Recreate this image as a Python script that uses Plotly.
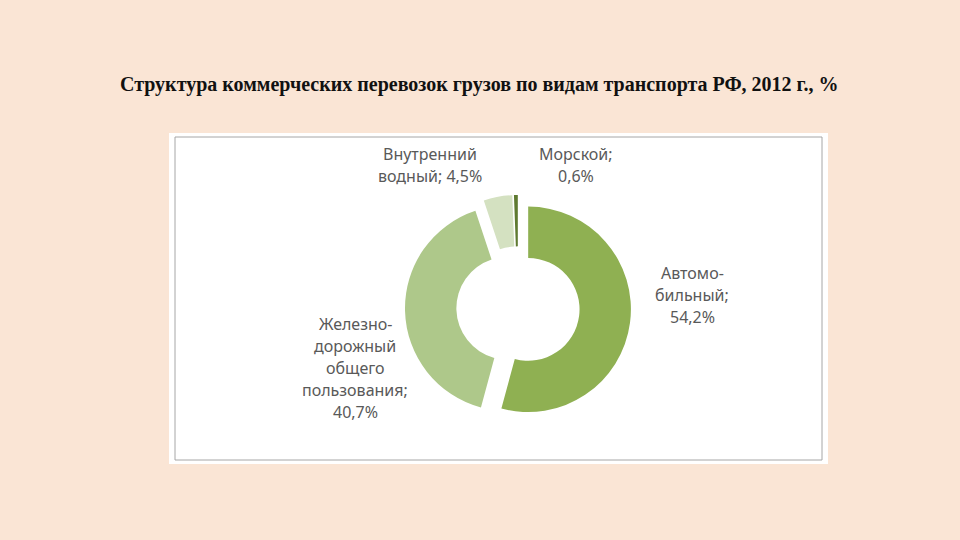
import plotly.graph_objects as go

# данные
names = ["Автомо-\nбильный", "Железно-\nдорожный\nобщего\nпользования",
         "Внутренний\nводный", "Морской"]
shares = [54.2, 40.7, 4.5, 0.6]
value_sep = ["\n", "\n", " ", "\n"]
colors = ["#8FB052", "#AEC88A", "#D4E1C1", "#5F7A31"]

title = "Структура коммерческих перевозок грузов по видам транспорта РФ, 2012 г., %"

W, H = 960, 540
# центры подписей в пикселях
label_pos = [(692, 295), (355, 368), (430, 165), (576, 165)]
LINE = 22

fig = go.Figure(go.Pie(
    labels=[n.replace("\n", "") for n in names],
    values=shares,
    sort=False,
    direction="clockwise",
    rotation=0,
    hole=0.5,
    pull=[0.1] * len(shares),
    marker=dict(colors=colors, line=dict(width=0)),
    textinfo="none",
    hoverinfo="label+percent",
    showlegend=False,
    domain=dict(x=[(518 - 113) / W, (518 + 113) / W],
                y=[(H - 308 - 113) / H, (H - 308 + 113) / H]),
))

annotations = []
for name, v, sep, (cx, cy) in zip(names, shares, value_sep, label_pos):
    txt = name + ";" + sep + f"{v:.1f}".replace(".", ",") + "%"
    lines = txt.split("\n")
    y0 = cy - (len(lines) - 1) * LINE / 2
    for i, ln in enumerate(lines):
        annotations.append(dict(
            x=cx / W, y=1 - (y0 + i * LINE) / H, xref="paper", yref="paper",
            text=ln, showarrow=False, xanchor="center", yanchor="middle",
            font=dict(family="Noto Sans", size=16, color="#595959")))

annotations.append(dict(
    x=479 / W, y=1 - 84 / H, xref="paper", yref="paper", text="<b>" + title + "</b>",
    showarrow=False, xanchor="center", yanchor="middle",
    font=dict(family="Liberation Serif", size=20, color="#111111")))

fig.update_layout(
    width=W, height=H,
    margin=dict(l=0, r=0, t=0, b=0),
    paper_bgcolor="#FAE5D5",
    plot_bgcolor="#FAE5D5",
    annotations=annotations,
    shapes=[
        dict(type="rect", xref="paper", yref="paper", layer="below",
             x0=169 / W, x1=828 / W, y0=1 - 464 / H, y1=1 - 133 / H,
             fillcolor="white", line=dict(width=0)),
        dict(type="rect", xref="paper", yref="paper", layer="below",
             x0=175 / W, x1=822 / W, y0=1 - 460 / H, y1=1 - 137 / H,
             fillcolor="white", line=dict(color="#A6A6A6", width=1)),
    ],
)

# убрать отступ страницы, чтобы слайд занимал всё окно
fig.write_html("out.html", config={"displayModeBar": False},
               post_script="document.body.style.margin='0';")
